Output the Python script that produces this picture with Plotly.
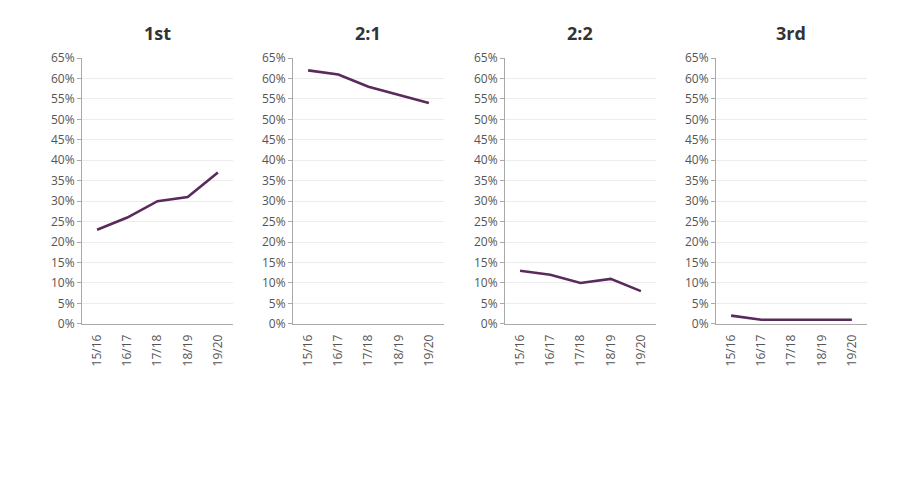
# Degree classification trends - four small multiples
import plotly.graph_objects as go

# Data
years = ['15/16', '16/17', '17/18', '18/19', '19/20']
panel_titles = ['1st', '2:1', '2:2', '3rd']
first = [23, 26, 30, 31, 37]
upper_second = [62, 61, 58, 56, 54]
lower_second = [13, 12, 10, 11, 8]
third = [2, 1, 1, 1, 1]
y_ticks = list(range(0, 70, 5))
y_labels = [str(v) + '%' for v in y_ticks]

series = [first, upper_second, lower_second, third]
line_color = '#5b2a5c'
x_domains = [[0.0822, 0.25], [0.3167, 0.4844], [0.5522, 0.72], [0.7867, 0.9544]]
y_domain = [0.343, 0.912]

fig = go.Figure()
layout = dict(
    width=900, height=484,
    margin=dict(l=0, r=0, t=0, b=0),
    paper_bgcolor='white', plot_bgcolor='white',
    showlegend=False,
    font=dict(family='Open Sans', size=12, color='#555555'),
    annotations=[],
)

for i, vals in enumerate(series):
    n = '' if i == 0 else str(i + 1)
    fig.add_trace(go.Scatter(x=years, y=vals, mode='lines',
                             xaxis='x' + n, yaxis='y' + n,
                             line=dict(color=line_color, width=2.6),
                             hoverinfo='skip'))
    # transparent ticks just to push the rotated labels down a bit
    layout['xaxis' + n] = dict(
        domain=x_domains[i], anchor='y' + n, type='category',
        range=[-0.5, 4.5], tickangle=-90,
        showline=True, linecolor='#aaaaaa', linewidth=1,
        showgrid=False, ticks='outside', ticklen=5, tickcolor='rgba(0,0,0,0)',
        zeroline=False, tickfont=dict(size=12, color='#555555'))
    layout['yaxis' + n] = dict(
        domain=y_domain, anchor='x' + n, range=[0, 65],
        tickmode='array', tickvals=y_ticks, ticktext=y_labels,
        showline=True, linecolor='#aaaaaa', linewidth=1,
        ticks='outside', ticklen=4, tickcolor='#aaaaaa',
        showgrid=True, gridcolor='#ececec', gridwidth=1,
        zeroline=False, tickfont=dict(size=12, color='#555555'))
    layout['annotations'].append(dict(
        text='<b>' + panel_titles[i] + '</b>',
        x=(x_domains[i][0] + x_domains[i][1]) / 2, y=0.9655,
        xref='paper', yref='paper', xanchor='center', yanchor='middle',
        showarrow=False, font=dict(size=18, color='#333333')))

fig.update_layout(**layout)
fig.write_html('out.html')
